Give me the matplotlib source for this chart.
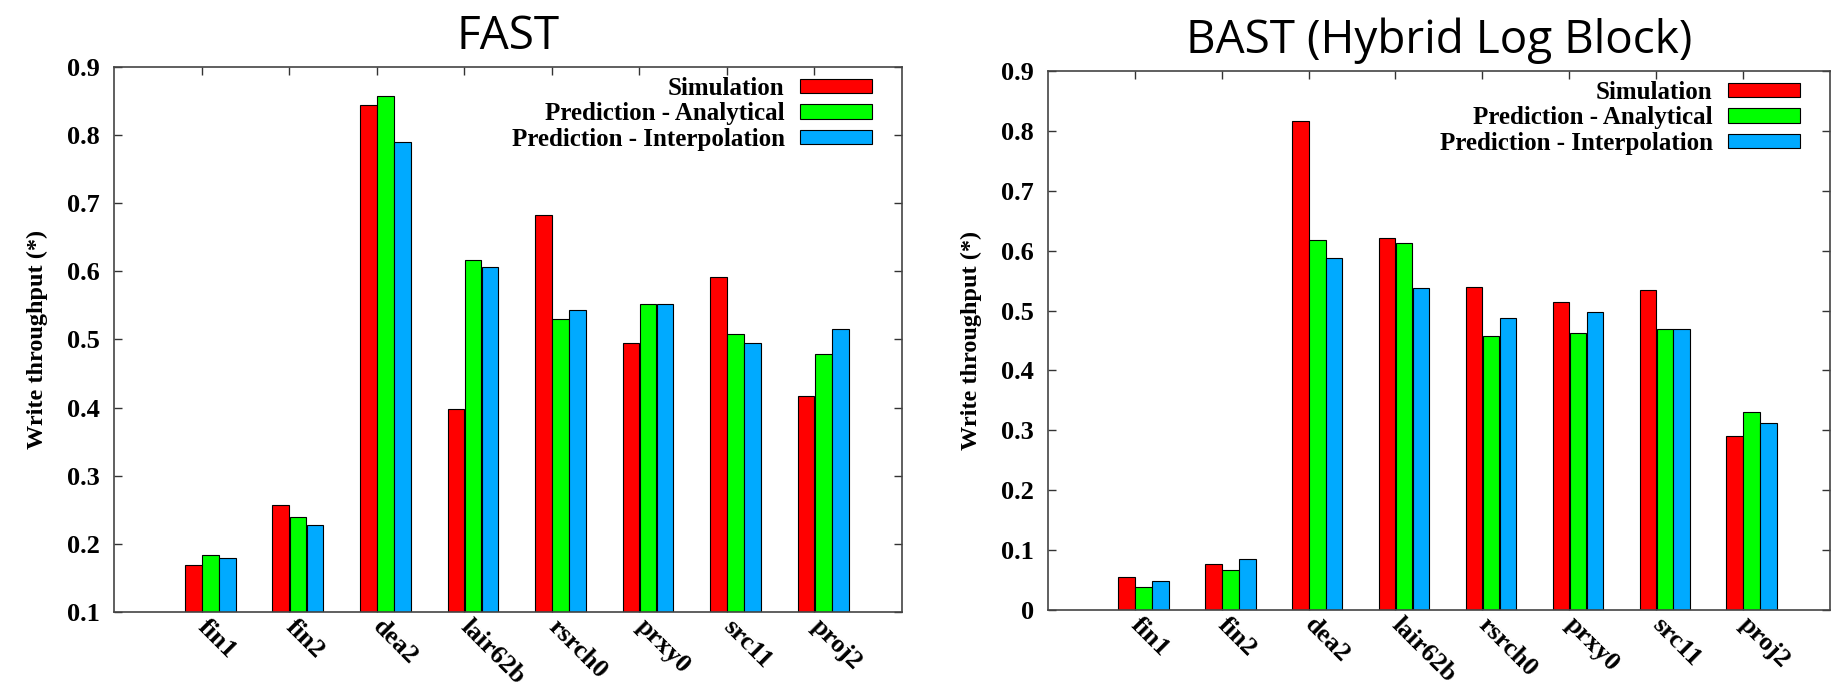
import matplotlib
matplotlib.use('Agg')
import matplotlib.pyplot as plt
import numpy as np
from matplotlib.patches import Patch

# Dados
traces = ['fin1', 'fin2', 'dea2', 'lair62b', 'rsrch0', 'prxy0', 'src11', 'proj2']
series = ['Simulation', 'Prediction - Analytical', 'Prediction - Interpolation']
cores = ['#ff0000', '#00ff00', '#00aaff']

fast_sim = [0.169, 0.257, 0.844, 0.398, 0.683, 0.495, 0.591, 0.417]
fast_ana = [0.184, 0.240, 0.857, 0.617, 0.530, 0.552, 0.508, 0.478]
fast_int = [0.179, 0.228, 0.790, 0.606, 0.544, 0.552, 0.495, 0.516]

bast_sim = [0.055, 0.077, 0.817, 0.621, 0.539, 0.515, 0.534, 0.291]
bast_ana = [0.038, 0.066, 0.617, 0.612, 0.458, 0.463, 0.469, 0.331]
bast_int = [0.049, 0.085, 0.588, 0.538, 0.488, 0.497, 0.469, 0.312]

serif = 'Liberation Serif'

fig = plt.figure(figsize=(18.33, 6.85), dpi=100)
ax1 = fig.add_axes([0.0622, 0.1066, 0.4299, 0.7956])
ax2 = fig.add_axes([0.5717, 0.1095, 0.4266, 0.7869])

x = np.arange(1, len(traces) + 1)
width = 0.19
offsets = [-0.095, 0.1, 0.295]


def desenha(ax, dados, ymin, titulo):
    for off, vals, cor in zip(offsets, dados, cores):
        ax.bar(x + off, np.array(vals) - ymin, width, bottom=ymin, color=cor,
               edgecolor='black', linewidth=0.8, zorder=2)
    ax.set_xlim(0, 9)
    ax.set_ylim(ymin, 0.9)
    yt = np.round(np.arange(ymin, 0.91, 0.1), 1)
    ax.set_yticks(yt)
    ax.set_yticklabels([f'{v:g}' for v in yt],
                       fontfamily=serif, fontweight='bold', fontsize=19)
    ax.set_xticks(x)
    ax.set_xticklabels(traces, rotation=-45, ha='left', va='center',
                       rotation_mode='anchor', fontfamily=serif,
                       fontweight='bold', fontsize=19)
    ax.tick_params(axis='both', direction='in', length=6, width=1,
                   color='#333333', top=True, right=True)
    ax.tick_params(axis='y', pad=10)
    ax.tick_params(axis='x', pad=8)
    for s in ax.spines.values():
        s.set_color('#444444')
        s.set_linewidth(1.2)
    ax.set_ylabel('Write throughput (*)', fontfamily=serif, fontweight='bold',
                  fontsize=17.5, labelpad=14)
    ax.set_title(titulo, fontfamily='Open Sans', fontsize=33, pad=13)
    handles = [Patch(facecolor=c, edgecolor='black', linewidth=0.8) for c in cores]
    ax.legend(handles, series, loc='upper right', bbox_to_anchor=(0.962, 0.982),
              frameon=False, markerfirst=False, borderpad=0, borderaxespad=0,
              handlelength=2.9, handleheight=0.52, handletextpad=0.6,
              labelspacing=0.1, prop={'family': serif, 'weight': 'bold', 'size': 18})


desenha(ax1, [fast_sim, fast_ana, fast_int], 0.1, 'FAST')
desenha(ax2, [bast_sim, bast_ana, bast_int], 0.0, 'BAST (Hybrid Log Block)')

fig.savefig('out.png', dpi=100)
